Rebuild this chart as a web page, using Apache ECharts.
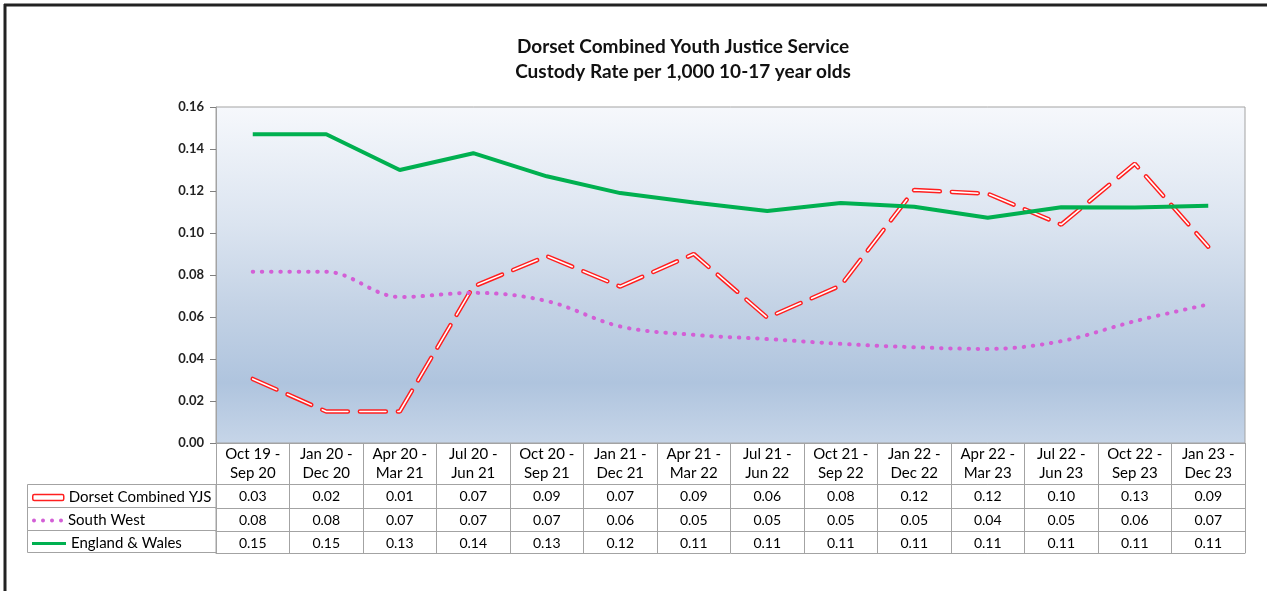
<!DOCTYPE html>
<html>
<head>
<meta charset="utf-8">
<title>Custody Rate</title>
<script src="https://cdn.jsdelivr.net/npm/echarts@6/dist/echarts.min.js"></script>
<style>
  html, body { margin: 0; padding: 0; background: #fff; }
  #main { width: 1267px; height: 591px; }
</style>
</head>
<body>
<div id="main"></div>
<script>
// 类目（季度滚动区间）
var categories = ['Oct 19 -\nSep 20', 'Jan 20 -\nDec 20', 'Apr 20 -\nMar 21', 'Jul 20 -\nJun 21',
	'Oct 20 -\nSep 21', 'Jan 21 -\nDec 21', 'Apr 21 -\nMar 22', 'Jul 21 -\nJun 22',
	'Oct 21 -\nSep 22', 'Jan 22 -\nDec 22', 'Apr 22 -\nMar 23', 'Jul 22 -\nJun 23',
	'Oct 22 -\nSep 23', 'Jan 23 -\nDec 23'];

// 折线数据
var dorset = [0.0305, 0.0150, 0.0150, 0.0745, 0.0890, 0.0745, 0.0900, 0.0597, 0.0750, 0.1205, 0.1187, 0.1040, 0.1330, 0.0935];
var southWest = [0.0815, 0.0815, 0.0695, 0.0715, 0.0676, 0.0555, 0.0515, 0.0495, 0.0472, 0.0456, 0.0448, 0.0485, 0.0580, 0.0660];
var englandWales = [0.1470, 0.1470, 0.1300, 0.1380, 0.1270, 0.1190, 0.1145, 0.1105, 0.1143, 0.1125, 0.1073, 0.1123, 0.1122, 0.1130];

// 数据表里显示的数值
var tblDorset = ['0.03', '0.02', '0.01', '0.07', '0.09', '0.07', '0.09', '0.06', '0.08', '0.12', '0.12', '0.10', '0.13', '0.09'];
var tblSouthWest = ['0.08', '0.08', '0.07', '0.07', '0.07', '0.06', '0.05', '0.05', '0.05', '0.05', '0.04', '0.05', '0.06', '0.07'];
var tblEnglandWales = ['0.15', '0.15', '0.13', '0.14', '0.13', '0.12', '0.11', '0.11', '0.11', '0.11', '0.11', '0.11', '0.11', '0.11'];

var seriesNames = ['Dorset Combined YJS', 'South West', 'England & Wales'];

var FONT = 'Lato, "Liberation Sans", sans-serif';
var GRID_COLOR = '#a3a3a3';
var RED = '#ff1f1f', PINK = '#d35fd6', GREEN = '#00b050';

// 图例里四个圆点
var DOTS_ICON = 'path://M2,0A2,2,0,1,1,2,4A2,2,0,1,1,2,0Z' +
	'M11,0A2,2,0,1,1,11,4A2,2,0,1,1,11,0Z' +
	'M20,0A2,2,0,1,1,20,4A2,2,0,1,1,20,0Z' +
	'M29,0A2,2,0,1,1,29,4A2,2,0,1,1,29,0Z';

// 数据表的一行：用额外的类目轴画横线、竖线和数值
function tableAxis(offset, tickLen, labels) {
	return {
		type: 'category',
		gridIndex: 0,
		position: 'bottom',
		offset: offset,
		data: categories,
		boundaryGap: true,
		axisLine: { show: true, lineStyle: { color: GRID_COLOR, width: 1 } },
		axisTick: { show: tickLen > 0, length: tickLen, interval: 0, lineStyle: { color: GRID_COLOR } },
		axisLabel: {
			show: !!labels,
			interval: 0,
			margin: 5,
			fontFamily: FONT,
			fontSize: 14,
			color: '#000',
			formatter: function (v, i) { return labels ? labels[i] : ''; }
		},
		splitLine: { show: false }
	};
}

// 左侧图例框
function legendRow(name, top, width, height, icon, itemStyle) {
	return {
		show: true,
		left: 32,
		top: top,
		padding: 0,
		itemWidth: width,
		itemHeight: height,
		selectedMode: false,
		data: [{ name: name, icon: icon, itemStyle: itemStyle }],
		textStyle: { fontFamily: FONT, fontSize: 15, color: '#000' }
	};
}

var myChart = echarts.init(document.getElementById('main'));

var option = {
	backgroundColor: '#ffffff',
	animation: false,
	title: {
		text: 'Dorset Combined Youth Justice Service\nCustody Rate per 1,000 10-17 year olds',
		left: 678,
		top: 29,
		textAlign: 'center',
		textStyle: { fontFamily: FONT, fontSize: 19, fontWeight: 'bold', color: '#111', lineHeight: 25 }
	},
	legend: [
		legendRow(seriesNames[0], 490, 31, 6, 'roundRect', { color: '#fff', borderColor: RED, borderWidth: 1.5 }),
		legendRow(seriesNames[1], 513, 31, 4, DOTS_ICON, { color: PINK }),
		legendRow(seriesNames[2], 536, 34, 3, 'rect', { color: GREEN })
	],
	grid: {
		left: 216,
		right: 22,
		top: 107,
		bottom: 148,
		show: true,
		borderColor: GRID_COLOR,
		borderWidth: 1,
		backgroundColor: {
			type: 'linear', x: 0, y: 0, x2: 0, y2: 1,
			colorStops: [
				{ offset: 0, color: '#f6f8fc' },
				{ offset: 0.35, color: '#dbe4f0' },
				{ offset: 0.6, color: '#c3d2e5' },
				{ offset: 0.82, color: '#afc4de' },
				{ offset: 1, color: '#c6d5e8' }
			]
		}
	},
	xAxis: [
		{
			type: 'category',
			data: categories,
			boundaryGap: true,
			axisLine: { lineStyle: { color: GRID_COLOR } },
			axisTick: { show: true, length: 41, interval: 0, lineStyle: { color: GRID_COLOR } },
			axisLabel: {
				interval: 0,
				margin: 2,
				fontFamily: FONT,
				fontSize: 15,
				lineHeight: 19,
				color: '#000'
			},
			splitLine: { show: false }
		},
		tableAxis(41, 24, tblDorset),
		tableAxis(65, 23, tblSouthWest),
		tableAxis(88, 22, tblEnglandWales),
		tableAxis(110, 0, null)
	],
	yAxis: {
		type: 'value',
		min: 0,
		max: 0.16,
		interval: 0.02,
		axisLine: { show: true, lineStyle: { color: GRID_COLOR } },
		axisTick: { show: true, length: 6, lineStyle: { color: '#7f7f7f' } },
		axisLabel: {
			margin: 12,
			fontFamily: FONT,
			fontSize: 13,
			fontWeight: 'bold',
			color: '#222',
			formatter: function (v) { return v.toFixed(2); }
		},
		splitLine: { show: false }
	},
	graphic: [
		// 外框（上、左）
		{ type: 'line', shape: { x1: 4, y1: 5, x2: 1267, y2: 5 }, style: { stroke: '#222', lineWidth: 3 } },
		{ type: 'line', shape: { x1: 5, y1: 4, x2: 5, y2: 591 }, style: { stroke: '#222', lineWidth: 3 } },
		// 图例列的格子
		{ type: 'rect', shape: { x: 27.5, y: 484.5, width: 188.5, height: 23 }, style: { fill: 'none', stroke: GRID_COLOR, lineWidth: 1 } },
		{ type: 'rect', shape: { x: 27.5, y: 507.5, width: 188.5, height: 23 }, style: { fill: 'none', stroke: GRID_COLOR, lineWidth: 1 } },
		{ type: 'rect', shape: { x: 27.5, y: 530.5, width: 188.5, height: 22 }, style: { fill: 'none', stroke: GRID_COLOR, lineWidth: 1 } }
	],
	series: [
		{
			name: seriesNames[0],
			type: 'line',
			data: dorset,
			symbol: 'none',
			z: 2,
			lineStyle: { color: RED, width: 4.5, type: [26, 12], cap: 'round' }
		},
		{
			// 双线效果的白色内芯
			name: 'Dorset inner',
			type: 'line',
			data: dorset,
			symbol: 'none',
			silent: true,
			z: 3,
			lineStyle: { color: '#ffffff', width: 1.6, type: [26, 12], cap: 'round' }
		},
		{
			name: seriesNames[1],
			type: 'line',
			data: southWest,
			symbol: 'none',
			smooth: 0.35,
			z: 4,
			lineStyle: { color: PINK, width: 4, type: [0.5, 8.7], cap: 'round' }
		},
		{
			name: seriesNames[2],
			type: 'line',
			data: englandWales,
			symbol: 'none',
			z: 5,
			lineStyle: { color: GREEN, width: 4 }
		}
	]
};

myChart.setOption(option);
</script>
</body>
</html>
